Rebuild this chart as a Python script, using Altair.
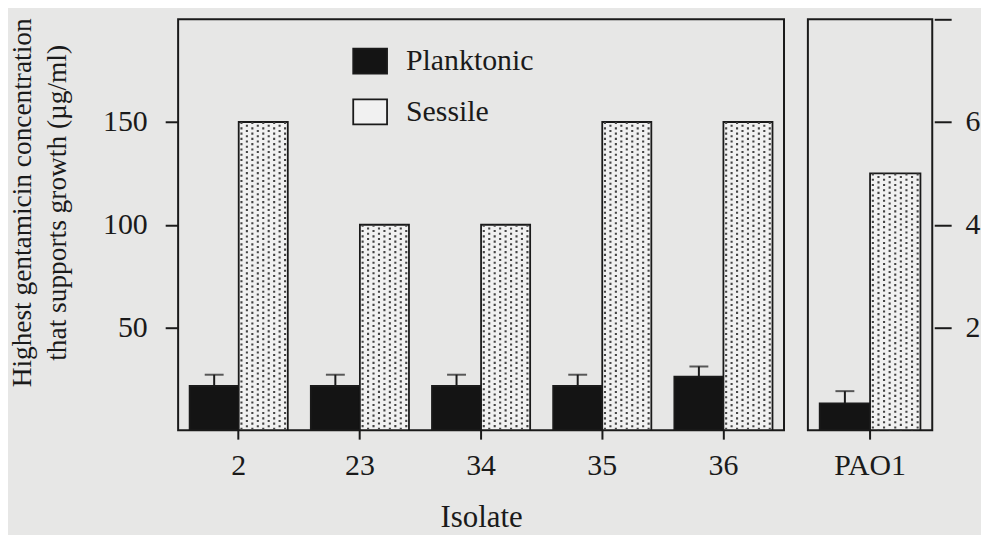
import altair as alt
import pandas as pd

# ---- data ----
isolates = ["2", "23", "34", "35", "36"]
planktonic = [21.5, 21.5, 21.5, 21.5, 26.0]
planktonic_err = [5.5, 5.5, 5.5, 5.5, 5.0]
sessile = [150, 100, 100, 150, 150]

ref_isolate = ["PAO1"]
ref_planktonic = [0.52]
ref_planktonic_err = [0.24]
ref_sessile = [5.0]

groups = ["Planktonic", "Sessile"]
left_ticks = [50, 100, 150]
right_ticks = [2, 4, 6, 8]

N_COLS = 9  # stipple columns inside a sessile bar
slots = [f"P{k}" for k in range(N_COLS)] + [f"S{k}" for k in range(N_COLS)]

FONT = "Liberation Serif"
INK = "#1a1a1a"


def tables(iso, pl, err, se):
    bars = pd.DataFrame({
        "isolate": iso * 2,
        "group": ["Planktonic"] * len(iso) + ["Sessile"] * len(iso),
        "value": pl + se,
    })
    errs = pd.DataFrame({
        "isolate": iso,
        "group": ["Planktonic"] * len(iso),
        "value": pl,
        "upper": [p + e for p, e in zip(pl, err)],
    })
    dots = pd.DataFrame([
        {"isolate": i, "slot": f"S{k}", "parity": k % 2, "value": s, "base": 0}
        for i, s in zip(iso, se) for k in range(N_COLS)
    ])
    return bars, errs, dots


def panel(iso, pl, err, se, ymax, width, yaxis, xtitle, legend):
    bars, errs, dots = tables(iso, pl, err, se)
    xenc = alt.X(
        "isolate:N", sort=iso,
        scale=alt.Scale(domain=iso, paddingInner=0.19, paddingOuter=0.095),
        axis=alt.Axis(title=xtitle, labelAngle=0, domain=False, tickSize=9,
                      tickWidth=2, tickColor=INK, labelPadding=12,
                      titlePadding=22, titleFontSize=31),
    )
    yscale = alt.Scale(domain=[0, ymax], nice=False, zero=True)
    yenc = lambda f: alt.Y(f, scale=yscale, axis=yaxis)
    off_g = alt.XOffset("group:N", scale=alt.Scale(domain=groups, paddingInner=0, paddingOuter=0))
    off_s = alt.XOffset("slot:N", scale=alt.Scale(domain=slots, paddingInner=0, paddingOuter=0))

    bar = alt.Chart(bars).mark_bar(stroke=INK, strokeWidth=1.8).encode(
        x=xenc, xOffset=off_g, y=yenc("value:Q"),
        color=alt.Color("group:N", scale=alt.Scale(domain=groups, range=["#141414", "#f1f1f1"]),
                        legend=legend),
    )
    dots_even = alt.Chart(dots).transform_filter("datum.parity == 0").mark_rule(
        color="#444444", strokeWidth=2.1, strokeDash=[2.1, 3.2], strokeDashOffset=0
    ).encode(x=xenc, xOffset=off_s, y=yenc("value:Q"), y2="base:Q")
    dots_odd = alt.Chart(dots).transform_filter("datum.parity == 1").mark_rule(
        color="#444444", strokeWidth=2.1, strokeDash=[2.1, 3.2], strokeDashOffset=2.65
    ).encode(x=xenc, xOffset=off_s, y=yenc("value:Q"), y2="base:Q")
    rule = alt.Chart(errs).mark_rule(color=INK, strokeWidth=2).encode(
        x=xenc, xOffset=off_g, y=yenc("upper:Q"), y2="value:Q")
    cap = alt.Chart(errs).mark_tick(color=INK, size=19, thickness=2).encode(
        x=xenc, xOffset=off_g, y=yenc("upper:Q"))
    return alt.layer(bar, dots_even, dots_odd, rule, cap).resolve_scale(
        xOffset="independent").properties(width=width, height=413)


left_axis = alt.Axis(
    values=left_ticks, orient="left", domain=False, grid=False,
    tickSize=13, tickWidth=2, tickColor=INK, labelPadding=18,
    title=["Highest gentamicin concentration", "that supports growth (µg/ml)"],
    titleFontSize=27.5, titleLineHeight=35, titlePadding=31, titleY=184,
)
right_axis = alt.Axis(
    values=right_ticks, orient="right", domain=False, grid=False, offset=2,
    tickSize=17, tickWidth=2, tickColor=INK, labelPadding=14, labelAlign="left",
    title=None, labelExpr="datum.value == 8 ? '' : datum.label",
)
legend = alt.Legend(
    orient="none", legendX=175, legendY=24, title=None, padding=0,
    symbolType="M-1,-0.74H1V0.74H-1Z", symbolSize=1156,
    symbolStrokeColor=INK, symbolStrokeWidth=1.8, symbolOpacity=1,
    labelFontSize=30, labelFont=FONT, labelColor=INK, labelOffset=18,
    rowPadding=16,
)

left = panel(isolates, planktonic, planktonic_err, sessile, 200, 609,
             left_axis, "Isolate", legend)
right = panel(ref_isolate, ref_planktonic, ref_planktonic_err, ref_sessile, 8, 125,
              right_axis, None, None)

chart = alt.hconcat(left, right, spacing=22).properties(
    padding={"left": 0, "top": 7, "right": 0, "bottom": 0},
    background="#e7e7e6",
).configure_view(
    stroke=INK, strokeWidth=2
).configure_axis(
    labelFont=FONT, titleFont=FONT, labelFontSize=30, labelColor=INK,
    titleColor=INK, titleFontWeight="normal",
).configure_concat(spacing=22)

chart.save("out.html", embed_options={"renderer": "svg", "actions": False})
